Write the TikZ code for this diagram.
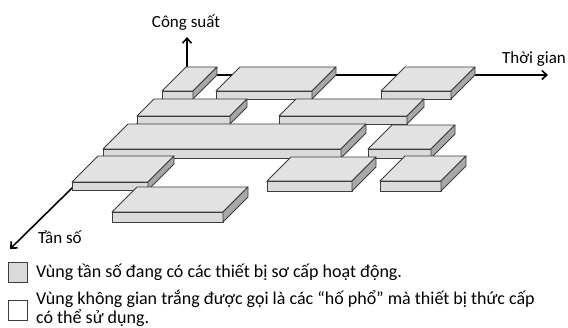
\documentclass[tikz,border=0pt]{standalone}
\usepackage{fontspec}
\setmainfont{Carlito}
\usetikzlibrary{arrows.meta}

\definecolor{topgrey}{RGB}{226,226,226}
\definecolor{frontgrey}{RGB}{218,218,218}
\definecolor{sidegrey}{RGB}{168,168,168}
\definecolor{edgegrey}{RGB}{60,60,60}

\tikzset{
  face/.style={draw=edgegrey, line width=0.9pt, line join=round},
  axis/.style={line width=1.6pt, -{Straight Barb[length=5pt,width=9pt,line width=1.6pt]}},
  lbl/.style={font=\fontsize{17}{20}\selectfont, inner sep=0pt},
  keytext/.style={font=\fontsize{18}{20}\selectfont, inner sep=0pt},
  legendbox/.style={draw=edgegrey, line width=0.9pt, minimum width=19pt, minimum height=20pt, inner sep=0pt},
}

% one slab on the time-frequency plane:
% #1,#2 = left/right x of the front face, #3 = y of its bottom edge,
% #4 = depth (45 degree offset), #5 = thickness
\newcommand\slab[5]{%
  \fill[topgrey] ({#1},{#3-#5}) -- ({#2},{#3-#5}) -- ({#2+#4},{#3-#5-#4}) -- ({#1+#4},{#3-#5-#4}) -- cycle;
  \draw[face] ({#1},{#3-#5}) -- ({#2},{#3-#5}) -- ({#2+#4},{#3-#5-#4}) -- ({#1+#4},{#3-#5-#4}) -- cycle;
  \draw[face, fill=frontgrey] ({#1},{#3}) rectangle ({#2},{#3-#5});
  \draw[face, fill=sidegrey] ({#2},{#3}) -- ({#2},{#3-#5}) -- ({#2+#4},{#3-#5-#4}) -- ({#2+#4},{#3-#4}) -- cycle;
}

\begin{document}
\begin{tikzpicture}[x=1pt,y=-1pt]
\useasboundingbox (0,0) rectangle (568,327);

% axes
\coordinate (origin) at (187,75);
\coordinate (timeend) at (548,75);
\coordinate (powerend) at (187,37);
\coordinate (freqend) at (10,249);
\draw[axis] (origin) -- (timeend);
\draw[axis] (origin) -- (powerend);
\draw[axis] (origin) -- (freqend);

% occupied slabs, back rows first
\slab{162}{193}{99}{24}{8}
\slab{216}{312}{99}{24}{8}
\slab{381}{451}{99}{24}{8}
\slab{137}{230}{124}{17}{8}
\slab{279}{407}{124}{17}{8}
\slab{103}{341}{158}{25}{9}
\slab{368}{431}{158}{24}{9}
\slab{72}{148}{190}{26}{8}
\slab{267}{352}{191}{24}{10}
\slab{380}{441}{191}{25}{10}
\slab{112}{223}{222}{25}{10}

% axis labels
\node[lbl, anchor=south] (power) at (186,31) {Công suất};
\node[lbl, anchor=south] (time) at (534,67) {Thời gian};
\node[lbl, anchor=west] (freq) at (38,237) {Tần số};

% legend
\node[legendbox, fill=frontgrey] (keyused) at (17.5,272) {};
\node[legendbox, fill=white] (keyfree) at (17.5,310) {};
\node[keytext, anchor=west] (textused) at (36,272) {Vùng tần số đang có các thiết bị sơ cấp hoạt động.};
\node[keytext, anchor=west] (textfree) at (36,299) {Vùng không gian trắng được gọi là các “hố phổ” mà thiết bị thức cấp};
\node[keytext, anchor=west] (textfree2) at (36,318) {có thể sử dụng.};
\end{tikzpicture}
\end{document}
